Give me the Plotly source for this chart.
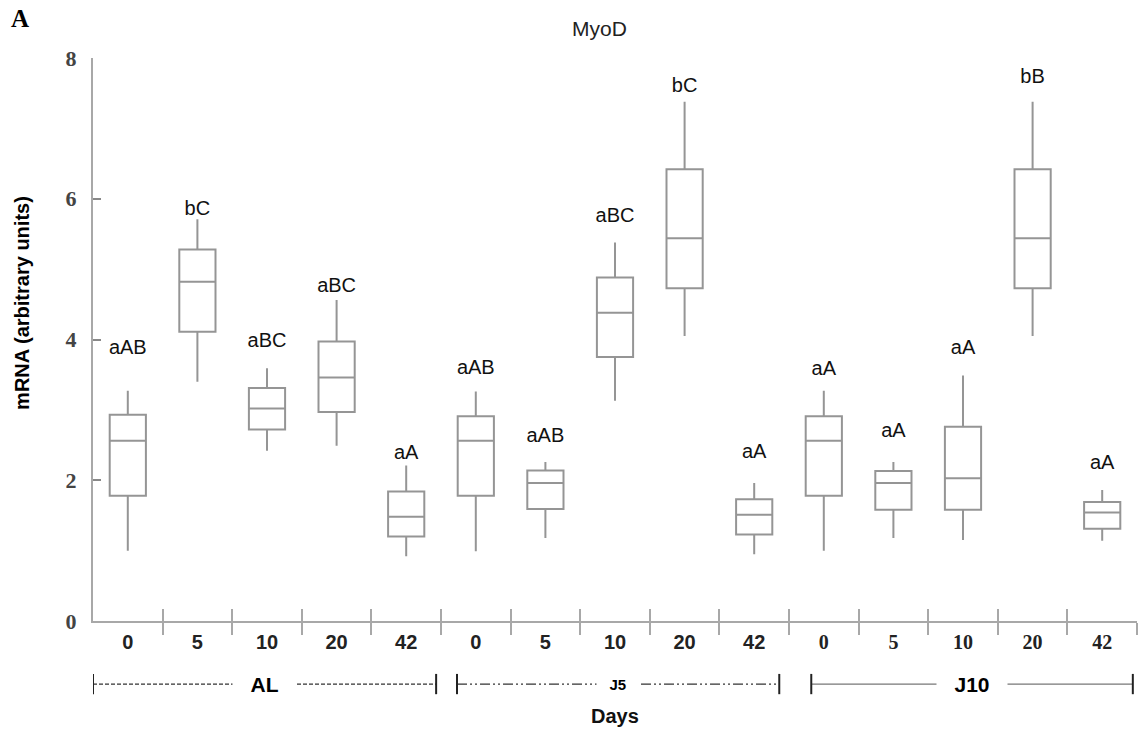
import plotly.graph_objects as go

# ---- data ----
days = ["0", "5", "10", "20", "42"] * 3
groups = ["AL", "J5", "J10"]
lower = [1.00, 3.40, 2.42, 2.49, 0.92, 0.99, 1.18, 3.13, 4.05, 0.95, 1.00, 1.18, 1.15, 4.05, 1.14]
q1 = [1.78, 4.11, 2.72, 2.97, 1.20, 1.78, 1.59, 3.75, 4.73, 1.23, 1.78, 1.58, 1.58, 4.73, 1.31]
median = [2.56, 4.82, 3.02, 3.46, 1.48, 2.56, 1.96, 4.38, 5.44, 1.51, 2.56, 1.96, 2.03, 5.44, 1.54]
q3 = [2.93, 5.28, 3.31, 3.97, 1.84, 2.91, 2.14, 4.88, 6.42, 1.73, 2.91, 2.13, 2.76, 6.42, 1.69]
upper = [3.27, 5.71, 3.59, 4.56, 2.21, 3.26, 2.26, 5.38, 7.38, 1.96, 3.27, 2.26, 3.49, 7.38, 1.86]
letters = ["aAB", "bC", "aBC", "aBC", "aA", "aAB", "aAB", "aBC", "bC", "aA", "aA", "aA", "aA", "bB", "aA"]
letter_y = [3.86, 5.84, 3.97, 4.74, 2.38, 3.58, 2.62, 5.74, 7.59, 2.39, 3.56, 2.69, 3.86, 7.71, 2.23]
y_ticks = [0, 2, 4, 6, 8]

xs = list(range(len(days)))
boundaries = [i + 0.5 for i in xs]

SANS = "Liberation Sans, Arial, sans-serif"
SERIF = "Liberation Serif, Times New Roman, serif"
BOXC = "#959595"
AXC = "#a8a8a8"

tick_text = []
for i, d in enumerate(days):
    if i >= 10:
        tick_text.append('<span style="font-family:Liberation Serif">%s</span>' % d)
    else:
        tick_text.append(d)

fig = go.Figure()
fig.add_trace(go.Box(
    x=xs, q1=q1, median=median, q3=q3, lowerfence=lower, upperfence=upper,
    width=0.52, whiskerwidth=0, boxpoints=False,
    line=dict(color=BOXC, width=2), fillcolor="white", showlegend=False,
))
fig.add_trace(go.Scatter(
    x=xs, y=letter_y, text=letters, mode="text",
    textfont=dict(family=SANS, size=20, color="#111"), showlegend=False,
))
# dummy trace so the overlaid axis (inside tick marks) is drawn
fig.add_trace(go.Scatter(x=[], y=[], xaxis="x2", showlegend=False))

fig.update_layout(
    width=1140, height=731,
    margin=dict(l=93, r=3, t=58, b=110),
    paper_bgcolor="white", plot_bgcolor="white",
    xaxis=dict(
        range=[-0.5, 14.5], tickmode="array", tickvals=xs, ticktext=tick_text,
        ticks="", showgrid=False, zeroline=False,
        showline=True, linecolor=AXC, linewidth=2,
        tickfont=dict(family=SANS, size=20, color="#222", weight="bold"),
        ticklabelstandoff=2,
        minor=dict(tickmode="array", tickvals=boundaries, ticks="outside",
                   ticklen=12, tickwidth=2, tickcolor=AXC, showgrid=False),
    ),
    xaxis2=dict(
        range=[-0.5, 14.5], overlaying="x", anchor="y", side="bottom",
        tickmode="array", tickvals=boundaries, ticks="inside", ticklen=12,
        tickwidth=2, tickcolor=AXC, showticklabels=False, showgrid=False,
        zeroline=False, showline=False,
    ),
    yaxis=dict(
        range=[0, 8], tickmode="array", tickvals=y_ticks,
        ticks="inside", ticklen=8, tickwidth=2, tickcolor="#888",
        showgrid=False, zeroline=False, showline=True, linecolor=AXC, linewidth=2,
        tickfont=dict(family=SERIF, size=22, color="#444", weight="bold"),
        ticklabelstandoff=10,
    ),
    showlegend=False,
)

# y-axis title (placed a little above the axis centre, as in the reference)
fig.add_annotation(text="mRNA (arbitrary units)", x=0, y=0.565, xref="paper", yref="paper",
                   xshift=-71, textangle=-90, showarrow=False,
                   font=dict(family=SANS, size=20, color="black", weight="bold"),
                   xanchor="center", yanchor="middle")
# title and panel letter
fig.add_annotation(text="MyoD", x=0.485, y=1, xref="paper", yref="paper", yshift=16,
                   showarrow=False, font=dict(family=SANS, size=21, color="#222"),
                   xanchor="center", yanchor="bottom")
fig.add_annotation(text="A", x=0, y=1, xref="paper", yref="paper", yshift=24,
                   xshift=-84, showarrow=False,
                   font=dict(family=SERIF, size=25, color="black", weight="bold"),
                   xanchor="left", yanchor="bottom")
fig.add_annotation(text="Days", x=0.5, y=0, xref="paper", yref="paper", yshift=-95,
                   showarrow=False,
                   font=dict(family=SANS, size=20, color="#111", weight="bold"),
                   xanchor="center", yanchor="middle")

# group brackets
bracket_y = -0.112
cap = 0.018
spans = [(-0.5, 4.43), (4.73, 9.36), (9.82, 14.44)]
dashes = ["4px,2px", "10px,3px,2px,3px,2px,3px", "solid"]
bcol = ["#333", "#333", "#777"]
lsize = [21, 15, 21]
for g, (a, b), dsh, c, fs in zip(groups, spans, dashes, bcol, lsize):
    fig.add_shape(type="line", xref="x", yref="paper", x0=a, x1=b, y0=bracket_y, y1=bracket_y,
                  line=dict(color=c, width=1.2, dash=dsh))
    for e in (a, b):
        fig.add_shape(type="line", xref="x", yref="paper", x0=e, x1=e,
                      y0=bracket_y - cap, y1=bracket_y + cap,
                      line=dict(color="#222", width=2))
    fig.add_annotation(text="&nbsp;&nbsp;&nbsp;" + g + "&nbsp;&nbsp;&nbsp;", x=(a + b) / 2,
                       y=bracket_y, xref="x", yref="paper",
                       showarrow=False, bgcolor="white", borderpad=0,
                       font=dict(family=SANS, size=fs, color="black", weight="bold"),
                       xanchor="center", yanchor="middle")

fig.write_html("out.html")
